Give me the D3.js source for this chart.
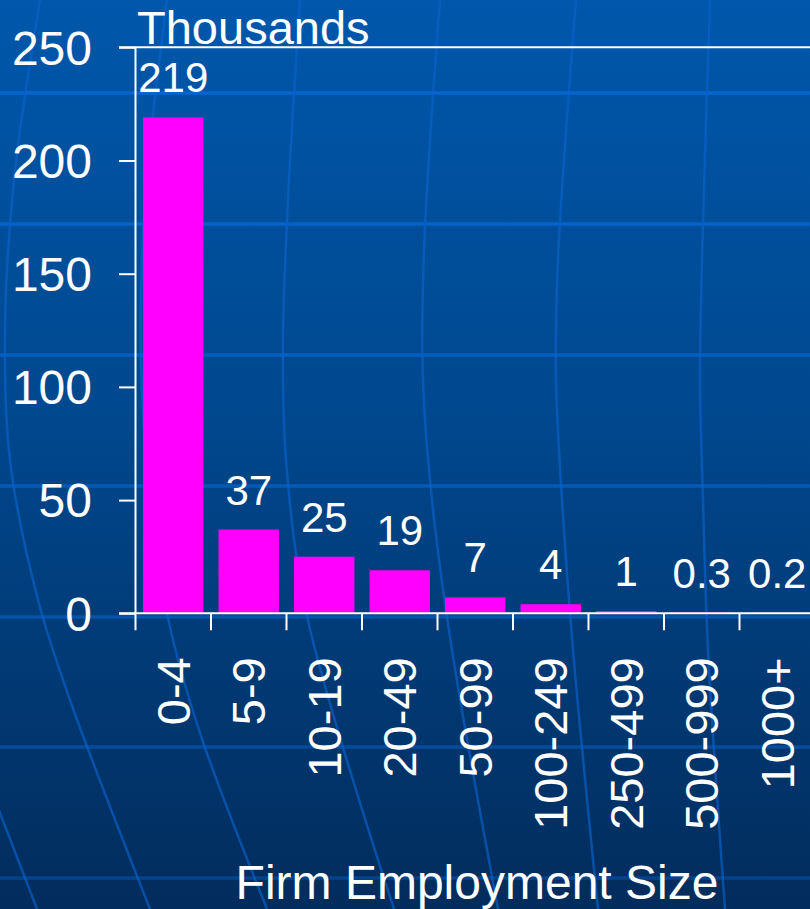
<!DOCTYPE html>
<html>
<head>
<meta charset="utf-8">
<script src="https://cdn.jsdelivr.net/npm/d3@7"></script>
<style>
  html, body { margin: 0; padding: 0; background: #013f82; }
  svg { display: block; }
</style>
</head>
<body>
<svg id="chart" width="810" height="909"></svg>
<script>
// chart values
const categories = ['0-4', '5-9', '10-19', '20-49', '50-99', '100-249', '250-499', '500-999', '1000+'];
const values = [219, 37, 25, 19, 7, 4, 1, 0.3, 0.2];
const valueLabels = ['219', '37', '25', '19', '7', '4', '1', '0.3', '0.2'];
const yTicks = [0, 50, 100, 150, 200, 250];

// background template decoration (globe grid)
const bandRows = [93, 224, 355, 486, 617, 747, 878];
const meridians = [
  [[40, 0], [14, 180], [5, 330], [10, 460], [38, 600], [70, 700], [150, 909]],
  [[167, 0], [145, 200], [141, 360], [150, 500], [168, 618], [200, 733], [267, 909]],
  [[300, 0], [288, 200], [283, 340], [286, 460], [308, 620], [394, 909]],
  [[440, 0], [424, 250], [423, 380], [432, 500], [452, 650], [498, 909]],
  [[576, 0], [558, 260], [556, 380], [562, 500], [573, 650], [598, 909]],
  [[710, 0], [702, 260], [700, 380], [703, 500], [708, 650], [725, 909]],
  [[-5, 800], [37, 909]]
];

const font = "'Liberation Sans', Arial, Helvetica, sans-serif";
const svg = d3.select('#chart');
const W = 810, H = 909;

// background gradient
const defs = svg.append('defs');
const grad = defs.append('linearGradient')
  .attr('id', 'bg')
  .attr('x1', 0).attr('y1', 0).attr('x2', 0).attr('y2', 1);
grad.append('stop').attr('offset', '0%').attr('stop-color', '#0057ab');
grad.append('stop').attr('offset', '45%').attr('stop-color', '#00488f');
grad.append('stop').attr('offset', '100%').attr('stop-color', '#022c5c');

svg.append('rect')
  .attr('width', W).attr('height', H)
  .attr('fill', 'url(#bg)');

const deco = svg.append('g').attr('class', 'deco');
const rowOpacity = d3.scaleLinear().domain([0, H]).range([0.85, 0.35]);

deco.selectAll('line.row')
  .data(bandRows)
  .join('line')
  .attr('class', 'row')
  .attr('x1', 0).attr('x2', W)
  .attr('y1', d => d).attr('y2', d => d)
  .attr('stroke', '#0a6ad8')
  .attr('stroke-width', 3.5)
  .attr('opacity', d => rowOpacity(d));

const curve = d3.line().curve(d3.curveCatmullRom);
deco.selectAll('path.meridian')
  .data(meridians)
  .join('path')
  .attr('class', 'meridian')
  .attr('d', curve)
  .attr('fill', 'none')
  .attr('stroke', '#0a62cc')
  .attr('stroke-width', 2.5)
  .attr('opacity', 0.65);

// scales
const x = d3.scaleBand()
  .domain(categories)
  .range([135.5, 815])
  .paddingInner(0.2)
  .paddingOuter(0.1);

const y = d3.scaleLinear()
  .domain([0, 250])
  .range([613.3, 47.3]);

const chart = svg.append('g');

// bars
chart.selectAll('rect.bar')
  .data(values)
  .join('rect')
  .attr('class', 'bar')
  .attr('x', (d, i) => x(categories[i]))
  .attr('y', d => y(d))
  .attr('width', x.bandwidth())
  .attr('height', d => y(0) - y(d))
  .attr('fill', '#ff00ff');

// value labels
chart.selectAll('text.val')
  .data(values)
  .join('text')
  .attr('class', 'val')
  .attr('x', (d, i) => x(categories[i]) + x.bandwidth() / 2)
  .attr('y', d => y(d) - 25)
  .attr('text-anchor', 'middle')
  .attr('fill', 'white')
  .attr('font-family', font)
  .attr('font-size', '42px')
  .text((d, i) => valueLabels[i]);

// y axis
const yAxis = d3.axisLeft(y)
  .tickValues(yTicks)
  .tickSize(16.5)
  .tickPadding(27)
  .tickFormat(d3.format('d'));

const yG = chart.append('g')
  .attr('transform', `translate(${x.range()[0]},0)`)
  .call(yAxis);
yG.select('.domain')
  .attr('d', `M0,${y(250)}V${y(0) + 17}`)
  .attr('stroke', 'white')
  .attr('stroke-width', 2);
yG.selectAll('.tick line').attr('stroke', 'white').attr('stroke-width', 2);
yG.selectAll('.tick text')
  .attr('fill', 'white')
  .attr('font-family', font)
  .attr('font-size', '48px')
  .attr('dy', '0.35em');

// top border line of plot area
chart.append('line')
  .attr('x1', x.range()[0] - 16.5).attr('x2', W)
  .attr('y1', y(250)).attr('y2', y(250))
  .attr('stroke', 'white')
  .attr('stroke-width', 2);

// x axis
const xG = chart.append('g')
  .attr('transform', `translate(0,${y(0)})`);
xG.append('line')
  .attr('x1', x.range()[0] - 16.5).attr('x2', W)
  .attr('y1', 0).attr('y2', 0)
  .attr('stroke', 'white')
  .attr('stroke-width', 2);

const edges = categories.map(c => x(c) - x.step() * x.paddingInner() / 2).slice(1);
xG.selectAll('line.xtick')
  .data(edges)
  .join('line')
  .attr('class', 'xtick')
  .attr('x1', d => d).attr('x2', d => d)
  .attr('y1', 0).attr('y2', 17)
  .attr('stroke', 'white')
  .attr('stroke-width', 2);

xG.selectAll('text.xlab')
  .data(categories)
  .join('text')
  .attr('class', 'xlab')
  .attr('transform', d => `translate(${x(d) + x.bandwidth() / 2},44) rotate(-90)`)
  .attr('text-anchor', 'end')
  .attr('dy', '0.35em')
  .attr('fill', 'white')
  .attr('font-family', font)
  .attr('font-size', '47px')
  .text(d => d);

// titles
svg.append('text')
  .attr('x', 137)
  .attr('y', 44)
  .attr('fill', 'white')
  .attr('font-family', font)
  .attr('font-size', '47px')
  .text('Thousands');

svg.append('text')
  .attr('x', 477)
  .attr('y', 899)
  .attr('text-anchor', 'middle')
  .attr('fill', 'white')
  .attr('font-family', font)
  .attr('font-size', '48px')
  .text('Firm Employment Size');
</script>
</body>
</html>
